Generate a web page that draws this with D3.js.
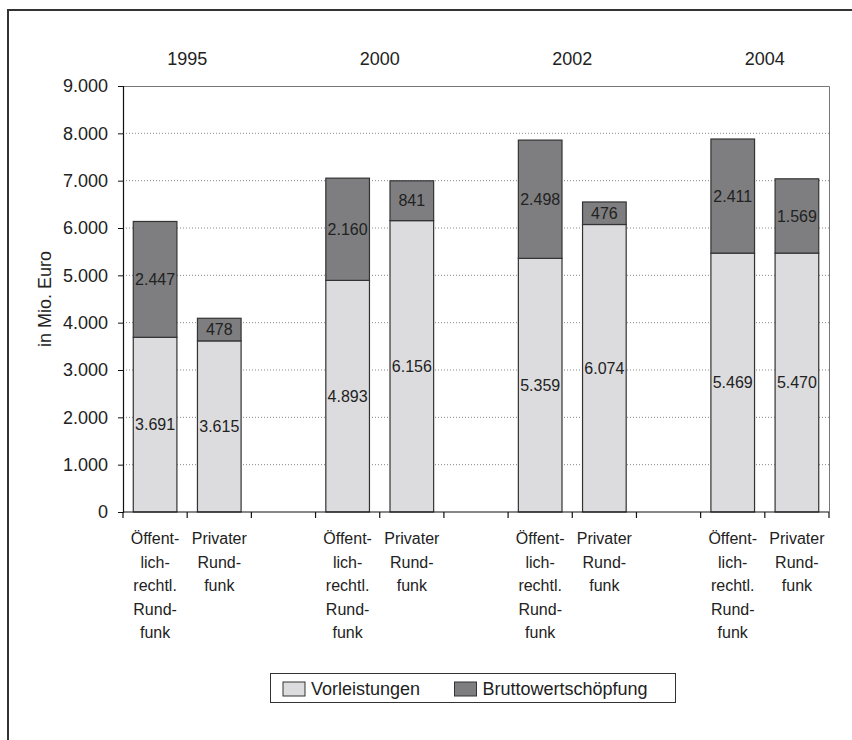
<!DOCTYPE html>
<html>
<head>
<meta charset="utf-8">
<script src="https://cdn.jsdelivr.net/npm/d3@7"></script>
<style>
  body { margin: 0; background: #fff; }
  text { font-family: "Liberation Sans", Arial, Helvetica, sans-serif; fill: #222; }
</style>
</head>
<body>
<div id="chart"></div>
<script>
	var WIDTH = 852;
	var HEIGHT = 740;

	// data
	var years = ["1995", "2000", "2002", "2004"];
	var broadcasters = ["Öffentlich-rechtl. Rundfunk", "Privater Rundfunk"];
	var catLines = [["Öffent-", "lich-", "rechtl.", "Rund-", "funk"], ["Privater", "Rund-", "funk"]];
	// order: 1995 Ö, 1995 P, 2000 Ö, 2000 P, ...
	var vorleistungen = [3691, 3615, 4893, 6156, 5359, 6074, 5469, 5470];
	var bruttowert = [2447, 478, 2160, 841, 2498, 476, 2411, 1569];
	var seriesNames = ["Vorleistungen", "Bruttowertschöpfung"];
	var seriesColors = ["#dcdcde", "#7e7e80"];
	var yTicks = [0, 1000, 2000, 3000, 4000, 5000, 6000, 7000, 8000, 9000];

	var plot = {left: 123, right: 829, top: 86, bottom: 512};

	var de = d3.formatLocale({decimal: ",", thousands: ".", grouping: [3], currency: ["", " €"]});
	var fmt = de.format(",d");

	// slots: Ö, P, gap for every year (no gap after the last)
	var slots = [];
	years.forEach(function(y, g){
		slots.push({year: y, b: 0, idx: g*2});
		slots.push({year: y, b: 1, idx: g*2+1});
		if(g < years.length-1) slots.push(null);
	});

	var x = d3.scaleBand()
		.domain(d3.range(slots.length))
		.range([plot.left, plot.right])
		.padding(0);
	var y = d3.scaleLinear().domain([0, 9000]).range([plot.bottom, plot.top]);
	var barW = x.bandwidth()*0.68;

	var svg = d3.select('#chart').append('svg')
		.attr('width', WIDTH)
		.attr('height', HEIGHT);

	// outer frame (open to right and bottom)
	svg.append('path')
		.attr('d', 'M8,' + (HEIGHT+5) + 'V10H' + (WIDTH+5))
		.attr('fill', 'none')
		.attr('stroke', '#333')
		.attr('stroke-width', 2);

	// grid lines
	svg.append('g').selectAll('line')
		.data(yTicks.filter(function(d){ return d > 0 && d < 9000; }))
		.enter().append('line')
		.attr('x1', plot.left).attr('x2', plot.right)
		.attr('y1', function(d){ return y(d); })
		.attr('y2', function(d){ return y(d); })
		.attr('stroke', '#888')
		.attr('stroke-dasharray', '1,2');

	// plot border top + right
	svg.append('path')
		.attr('d', 'M' + plot.left + ',' + (plot.top+0.5) + 'H' + (plot.right+0.5) + 'V' + plot.bottom)
		.attr('fill', 'none')
		.attr('stroke', '#777')
		.attr('stroke-width', 1);

	// bars
	var bars = [];
	slots.forEach(function(s, i){
		if(!s) return;
		var v = vorleistungen[s.idx], b = bruttowert[s.idx];
		bars.push({slot: i, y0: 0, y1: v, val: v, ser: 0});
		bars.push({slot: i, y0: v, y1: v+b, val: b, ser: 1});
	});

	var barG = svg.append('g');
	barG.selectAll('rect')
		.data(bars)
		.enter().append('rect')
		.attr('x', function(d){ return x(d.slot) + (x.bandwidth()-barW)/2; })
		.attr('y', function(d){ return y(d.y1); })
		.attr('width', barW)
		.attr('height', function(d){ return y(d.y0) - y(d.y1); })
		.attr('fill', function(d){ return seriesColors[d.ser]; })
		.attr('stroke', '#333')
		.attr('stroke-width', 1.2);

	barG.selectAll('text')
		.data(bars)
		.enter().append('text')
		.attr('x', function(d){ return x(d.slot) + x.bandwidth()/2; })
		.attr('y', function(d){ return (y(d.y0) + y(d.y1))/2; })
		.attr('dy', '0.36em')
		.attr('text-anchor', 'middle')
		.style('font-size', '16px')
		.text(function(d){ return fmt(d.val); });

	// y axis
	var yAxis = d3.axisLeft(y)
		.tickValues(yTicks)
		.tickSize(5)
		.tickPadding(10)
		.tickFormat(fmt);
	var yg = svg.append('g')
		.attr('transform', 'translate(' + plot.left + ',0)')
		.call(yAxis);
	yg.select('.domain').attr('stroke', '#111').attr('stroke-width', 1.2);
	yg.selectAll('.tick line').attr('stroke', '#111');
	yg.selectAll('.tick text')
		.style('font-size', '18px')
		.style('font-family', '"Liberation Sans", Arial, sans-serif')
		.attr('fill', '#222');

	svg.append('text')
		.attr('transform', 'translate(45,' + ((plot.top + plot.bottom)/2) + ') rotate(-90)')
		.attr('text-anchor', 'middle')
		.attr('dy', '0.35em')
		.style('font-size', '18px')
		.text('in Mio. Euro');

	// x axis line + ticks at slot boundaries
	svg.append('line')
		.attr('x1', plot.left).attr('x2', plot.right)
		.attr('y1', plot.bottom).attr('y2', plot.bottom)
		.attr('stroke', '#111').attr('stroke-width', 1.2);
	var bounds = d3.range(slots.length).map(function(i){ return x(i); }).concat([plot.right]);
	svg.append('g').selectAll('line')
		.data(bounds)
		.enter().append('line')
		.attr('x1', function(d){ return d; }).attr('x2', function(d){ return d; })
		.attr('y1', plot.bottom).attr('y2', plot.bottom + 6)
		.attr('stroke', '#111').attr('stroke-width', 1.2);

	// category labels
	var catG = svg.append('g');
	slots.forEach(function(s, i){
		if(!s) return;
		var t = catG.append('text')
			.attr('text-anchor', 'middle')
			.style('font-size', '16px');
		catLines[s.b].forEach(function(line, k){
			t.append('tspan')
				.attr('x', x(i) + x.bandwidth()/2)
				.attr('y', 544 + k*23.5)
				.text(line);
		});
	});

	// year labels above the groups
	svg.append('g').selectAll('text')
		.data(years)
		.enter().append('text')
		.attr('x', function(d, g){ return x(g*3 + 1); })
		.attr('y', 65)
		.attr('text-anchor', 'middle')
		.style('font-size', '18px')
		.text(function(d){ return d; });

	// legend
	var leg = svg.append('g');
	leg.append('rect')
		.attr('x', 270.5).attr('y', 673.5)
		.attr('width', 405).attr('height', 29)
		.attr('fill', '#fff').attr('stroke', '#333');
	var legX = [283, 454.5];
	seriesNames.forEach(function(name, i){
		leg.append('rect')
			.attr('x', legX[i]).attr('y', 682)
			.attr('width', 22).attr('height', 14)
			.attr('fill', seriesColors[i])
			.attr('stroke', '#333');
		leg.append('text')
			.attr('x', legX[i] + 28).attr('y', 695)
			.style('font-size', '18px')
			.text(name);
	});
</script>
</body>
</html>
